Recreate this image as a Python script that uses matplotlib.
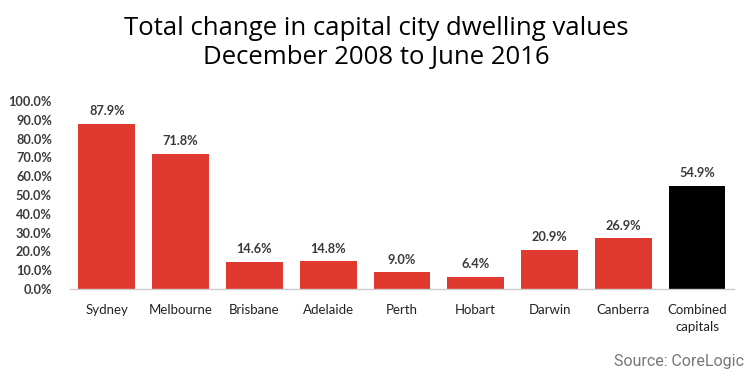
import matplotlib.pyplot as plt
from matplotlib.ticker import FuncFormatter

# Data
cities = ['Sydney', 'Melbourne', 'Brisbane', 'Adelaide', 'Perth', 'Hobart',
          'Darwin', 'Canberra', 'Combined\ncapitals']
change = [87.9, 71.8, 14.6, 14.8, 9.0, 6.4, 20.9, 26.9, 54.9]
bar_colors = ['#e03a30'] * 8 + ['#000000']
yticks = [0, 10, 20, 30, 40, 50, 60, 70, 80, 90, 100]

fig = plt.figure(figsize=(7.52, 3.77), dpi=100)
ax = fig.add_axes([0.093, 0.2334, 0.883, 0.4986])

x = range(len(cities))
ax.bar(x, change, width=0.77, color=bar_colors)

for xi, v in zip(x, change):
    ax.text(xi, v + 3.5, f'{v:.1f}%', ha='center', va='bottom',
            fontsize=9.2, family='Lato', fontweight='bold', color='#3a3a3a')

ax.set_xlim(-0.5, len(cities) - 0.5)
ax.set_ylim(0, 100)
ax.set_yticks(yticks)
ax.yaxis.set_major_formatter(FuncFormatter(lambda v, p: f'{v:.1f}%'))
ax.set_xticks(list(x))
ax.set_xticklabels(cities, linespacing=1.45)

for lab in ax.get_yticklabels():
    lab.set_family('Lato')
    lab.set_fontsize(9.2)
    lab.set_fontweight('bold')
    lab.set_color('#3a3a3a')
for lab in ax.get_xticklabels():
    lab.set_family('Lato')
    lab.set_fontsize(9.5)
    lab.set_color('#222222')

ax.tick_params(axis='both', length=0)
ax.tick_params(axis='y', pad=13)
ax.tick_params(axis='x', pad=11)
for side in ['top', 'right', 'left']:
    ax.spines[side].set_visible(False)
ax.spines['bottom'].set_color('#cccccc')
ax.spines['bottom'].set_linewidth(1)

fig.text(0.5, 0.886, 'Total change in capital city dwelling values\nDecember 2008 to June 2016',
         ha='center', va='center', fontsize=18.5, family='Open Sans',
         color='#000000', linespacing=1.25)
fig.text(0.99, 0.042, 'Source: CoreLogic', ha='right', va='center',
         fontsize=11.5, family='Roboto', color='#777777')

fig.savefig('out.png', dpi=100)
